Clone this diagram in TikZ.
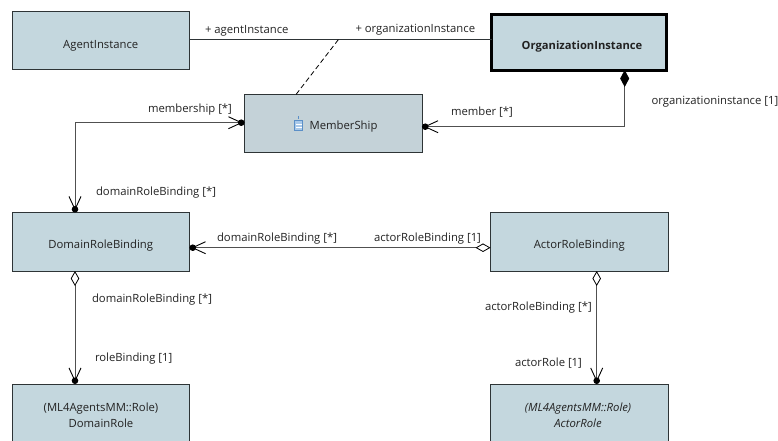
\documentclass[tikz,border=0pt]{standalone}
\usepackage{fontspec}
\setmainfont{Open Sans}
\usetikzlibrary{arrows.meta}
\definecolor{boxfill}{HTML}{C4D7DE}
\definecolor{msfill}{HTML}{C4D2D8}
\definecolor{edgecol}{HTML}{2E3436}
\definecolor{conn}{HTML}{505050}
\definecolor{lab}{HTML}{222222}
\definecolor{iconfill}{HTML}{A9C9EA}
\definecolor{iconline}{HTML}{5B8FC7}
\tikzset{
  cls/.style={draw=edgecol,line width=.9pt,fill=boxfill,minimum width=177.5pt,minimum height=58pt,inner sep=0pt,outer sep=0pt,anchor=north west,text=lab,font=\fontsize{11.3}{15.5}\selectfont,align=center,text depth=0pt,text height=14pt},
  lbl/.style={text=lab,font=\fontsize{11.3}{13}\selectfont,inner sep=0pt,outer sep=0pt},
  assoc/.style={draw=conn,line width=1pt},
  navtip/.tip={Straight Barb[length=13pt,width=12pt,line width=.9pt,color=black,sep=-4.5pt]Circle[length=6.5pt,color=black]},
  opentip/.tip={Diamond[length=15pt,width=8.5pt,fill=white,color=black,line width=.8pt]},
  filltip/.tip={Diamond[length=17pt,width=9pt,color=black]}
}
\begin{document}
\begin{tikzpicture}[x=1pt,y=-1pt]
\useasboundingbox (0,0) rectangle (778,440);
\clip (0,0) rectangle (778,440);
% classes
\node[cls,text height=15.6pt] (ai) at (12,11.7) {AgentInstance};
\node[cls,draw=black,line width=3pt,minimum width=175pt,minimum height=56pt,font=\fontsize{11.2}{13}\bfseries] (oi) at (491.5,14) {\hspace*{6pt}OrganizationInstance};
\node[cls,fill=msfill] (ms) at (244.5,94.5) {};
\node[cls,minimum height=58.5pt] (drb) at (12,212.5) {DomainRoleBinding};
\node[cls,minimum height=58.5pt] (arb) at (490.5,212.5) {ActorRoleBinding};
\node[cls,minimum height=70pt] (dr) at (12,384) {};
\node[cls,minimum height=70pt] (ar) at (490.5,384) {};
% box texts
\node[lbl] (mstext) at (343.5,127) {MemberShip};
\node[lbl,align=center,font=\fontsize{11.3}{15.7}\selectfont] (drtext) at (101,415.5) {(ML4AgentsMM::Role)\\DomainRole};
\node[lbl,align=center,font=\fontsize{11.3}{15.7}\itshape] (artext) at (578,415.5) {(ML4AgentsMM::Role)\\ActorRole};
% icon
\fill[iconfill] (294.5,120) rectangle (302.5,130.5);
\draw[iconline,line width=.7pt] (294.5,120.5) rectangle (302.5,130.5);
\fill[white] (295.5,124) rectangle (301.5,125);
\fill[white] (295.5,127) rectangle (301.5,128);
\draw[iconline,line width=.8pt] (298.5,116) -- (298.5,119);
% connector anchors
\coordinate (c1) at (ai.east |- 0,39.7);
\coordinate (c2) at (oi.west |- 0,39.7);
\coordinate (c3) at (338.3,39.7);
\coordinate (c4) at (ms.north -| 296,0);
\coordinate (c5) at (ms.west |- 0,122.7);
\coordinate (c6) at (75,122.7);
\coordinate (c7) at (drb.north -| 75,0);
\coordinate (c8) at (ms.east |- 0,126.7);
\coordinate (c9) at (624.7,126.7);
\coordinate (c10) at (oi.south -| 624.7,0);
\coordinate (c11) at (drb.east |- 0,247.7);
\coordinate (c12) at (arb.west |- 0,247.7);
\coordinate (c13) at (drb.south -| 75,0);
\coordinate (c14) at (dr.north -| 75,0);
\coordinate (c15) at (arb.south -| 596.7,0);
\coordinate (c16) at (ar.north -| 596.7,0);
% connectors
\draw[assoc,line width=.9pt,draw=edgecol] (c1) -- (c2);
\draw[assoc,line width=.8pt,dash pattern=on 5pt off 3pt,draw=black] (c3) -- (c4);
\draw[assoc,arrows={-navtip}] (c6) -- (c5);
\draw[assoc,arrows={-navtip}] (c6) -- (c7);
\draw[assoc,arrows={-navtip}] (c9) -- (c8);
\draw[assoc,arrows={filltip-}] (c10) -- (c9);
\draw[assoc,arrows={opentip-navtip}] (c12) -- (c11);
\draw[assoc,arrows={opentip-navtip}] (c13) -- (c14);
\draw[assoc,arrows={opentip-navtip}] (c15) -- (c16);
% labels
\node[lbl,anchor=west] (l1) at (205,31) {+ agentInstance};
\node[lbl,anchor=west] (l2) at (355.5,30) {+ organizationInstance};
\node[lbl,anchor=west] (l3) at (148,110) {membership [*]};
\node[lbl,anchor=west] (l4) at (451,112) {member [*]};
\node[lbl,anchor=west] (l5) at (651.5,102) {organizationinstance [1]};
\node[lbl,anchor=west] (l6) at (96,193) {domainRoleBinding [*]};
\node[lbl,anchor=west] (l7) at (217,239) {domainRoleBinding [*]};
\node[lbl,anchor=west] (l8) at (374,239) {actorRoleBinding [1]};
\node[lbl,anchor=west] (l9) at (92,300) {domainRoleBinding [*]};
\node[lbl,anchor=west] (l10) at (95,359) {roleBinding [1]};
\node[lbl,anchor=west] (l11) at (485,308) {actorRoleBinding [*]};
\node[lbl,anchor=west] (l12) at (515,363) {actorRole [1]};
\end{tikzpicture}
\end{document}
